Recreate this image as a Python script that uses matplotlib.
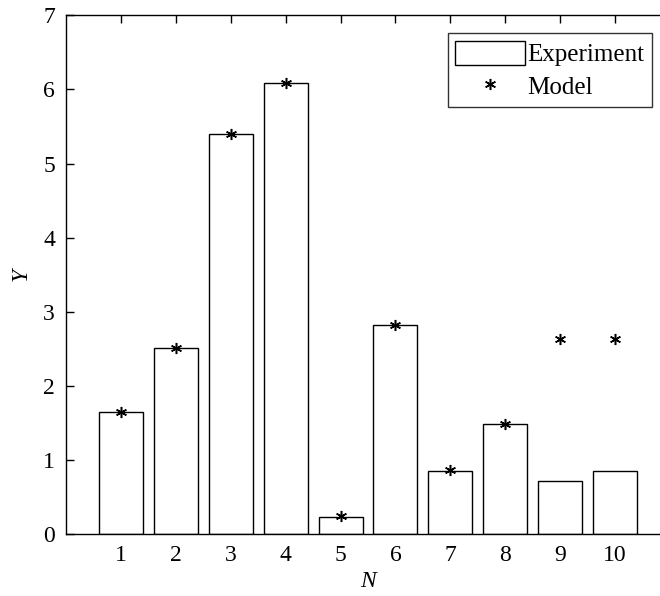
import matplotlib
matplotlib.use("Agg")
import matplotlib.pyplot as plt

categories = [1, 2, 3, 4, 5, 6, 7, 8, 9, 10]
experiment = [1.65, 2.51, 5.40, 6.09, 0.24, 2.82, 0.86, 1.49, 0.72, 0.86]
model = [1.65, 2.51, 5.40, 6.09, 0.25, 2.82, 0.87, 1.49, 2.63, 2.63]
yticks = [0, 1, 2, 3, 4, 5, 6, 7]

plt.rcParams['font.family'] = ['Liberation Serif', 'DejaVu Serif']

fig = plt.figure(figsize=(6.6, 5.96), dpi=100)
ax = fig.add_axes([66 / 660, 61.7 / 596, 604 / 660, 519 / 596])

bars = ax.bar(categories, experiment, width=0.8, facecolor='white', edgecolor='black',
              linewidth=1.0, label='Experiment', zorder=2)
pts, = ax.plot(categories, model, linestyle='none', marker=(6, 2, 0), markersize=8,
               markeredgewidth=1.1, color='black', label='Model', zorder=3)

ax.set_xlim(0, 11)
ax.set_ylim(0, 7)
ax.set_xticks(categories)
ax.set_yticks(yticks)
ax.tick_params(direction='in', length=6, width=1.0, labelsize=17, top=True, right=True, pad=8)
for s in ax.spines.values():
    s.set_linewidth(1.0)

ax.set_xlabel('N', fontsize=17, style='italic', labelpad=3)
ax.set_ylabel('Y', fontsize=17, style='italic', labelpad=8)

leg = ax.legend([bars, pts], ['Experiment', 'Model'], loc='upper right',
                bbox_to_anchor=((652 - 66) / 604, 1 - 18 / 519),
                fontsize=18, frameon=True, fancybox=False, edgecolor='black',
                handlelength=2.8, handleheight=1.1, borderpad=0.3, labelspacing=0.3,
                handletextpad=0.1, borderaxespad=0)
leg.get_frame().set_linewidth(1.0)

fig.savefig('out.png', dpi=100)
